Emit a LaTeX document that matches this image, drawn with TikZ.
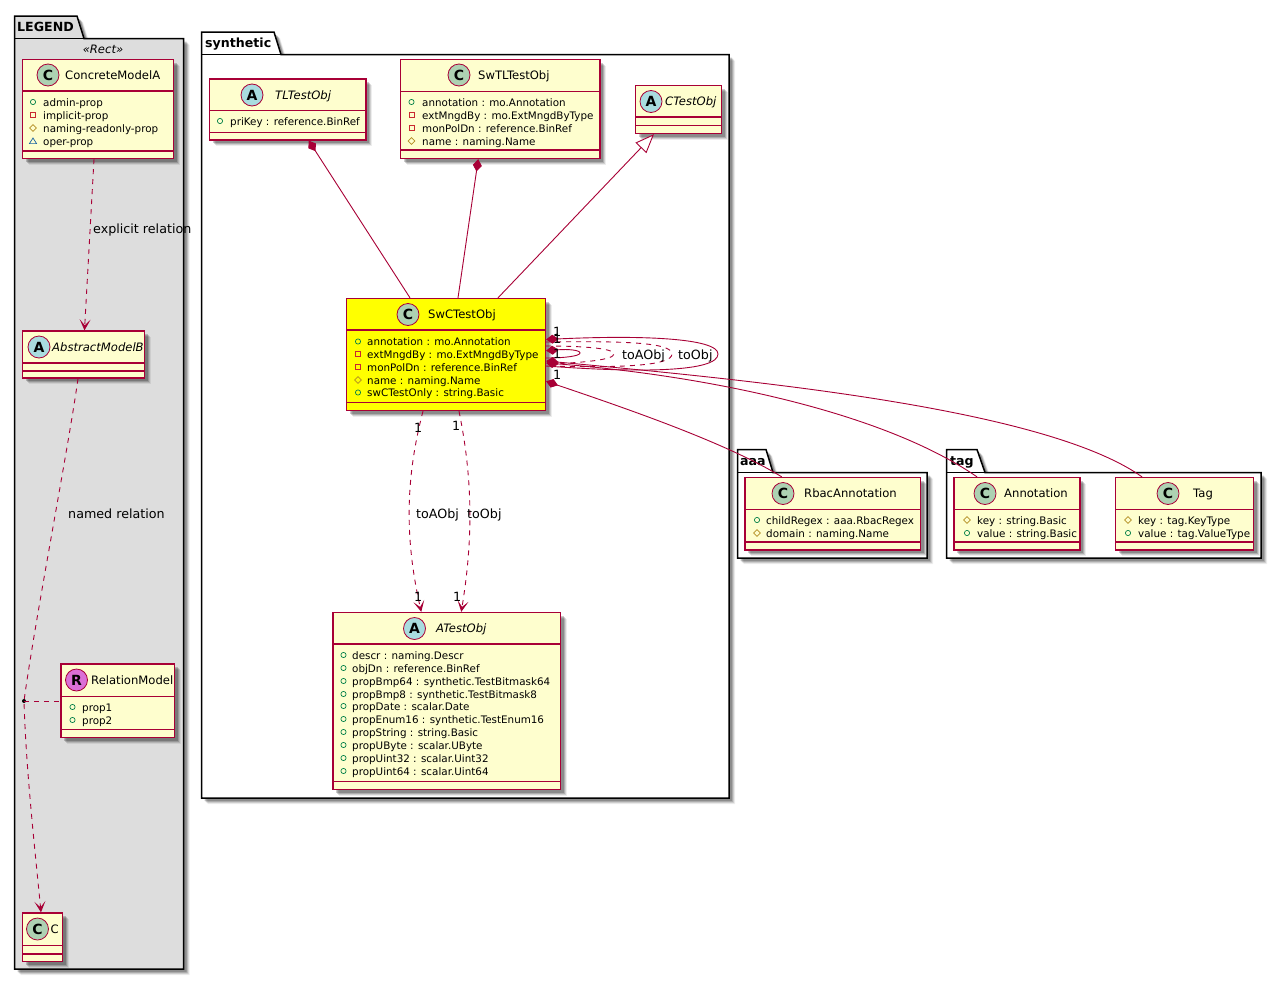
\documentclass[tikz,border=0pt]{standalone}
\usepackage{fontspec}
\setmainfont{DejaVu Sans}
\usepackage{xcolor}
\usetikzlibrary{arrows.meta,shadows,fit,calc}
\definecolor{UmlRed}{HTML}{A80036}
\definecolor{UmlFill}{HTML}{FEFECE}
\definecolor{UmlYellow}{HTML}{FFFF00}
\definecolor{LegendGray}{HTML}{DDDDDD}
\definecolor{SpotClass}{HTML}{ADD1B2}
\definecolor{SpotAbstract}{HTML}{A9DCDF}
\definecolor{SpotRel}{HTML}{DA70D6}
\definecolor{VisPub}{HTML}{038048}
\definecolor{VisPrv}{HTML}{C82930}
\definecolor{VisPro}{HTML}{B38D22}
\definecolor{VisPkg}{HTML}{1963A0}
\tikzset{
  softshadow/.style={
    general shadow={shadow xshift=6pt,shadow yshift=-6pt,fill=black,opacity=.07},
    general shadow={shadow xshift=5pt,shadow yshift=-5pt,fill=black,opacity=.12},
    general shadow={shadow xshift=4pt,shadow yshift=-4pt,fill=black,opacity=.16},
    general shadow={shadow xshift=3pt,shadow yshift=-3pt,fill=black,opacity=.20}},
  pkgbody/.style={draw=black,line width=1.5pt,softshadow},
  pkgtitle/.style={anchor=west,inner sep=0pt,text height=11pt,text depth=2pt,font=\fontsize{12.6}{15}\selectfont\bfseries},
  classbox/.style={draw=UmlRed,line width=1.3pt,inner sep=0pt,softshadow},
  sepline/.style={draw=UmlRed,line width=1.3pt},
  spot/.style={circle,draw=UmlRed,line width=.8pt,minimum size=22pt,inner sep=0pt,font=\fontsize{14}{14}\selectfont\bfseries},
  headtext/.style={anchor=west,inner sep=0pt,text height=10pt,text depth=2pt,font=\fontsize{11.6}{14}\selectfont},
  headitalic/.style={headtext,font=\fontsize{11.6}{14}\selectfont\itshape},
  membertext/.style={anchor=west,inner sep=0pt,text height=9.5pt,text depth=1.5pt,font=\fontsize{10.35}{12}\selectfont},
  edgelabel/.style={anchor=west,inner sep=0pt,text height=10pt,text depth=2pt,font=\fontsize{12.7}{14}\selectfont},
  multlabel/.style={edgelabel},
  rel/.style={draw=UmlRed,line width=.9pt},
  reldash/.style={rel,dash pattern=on 5pt off 5pt},
  openarrow/.style={-{Stealth[length=11pt,width=11pt,inset=6pt]}},
  compo/.style={{Diamond[length=12.5pt,width=9pt]}-},
  relpoint/.style={circle,fill=black,inner sep=0pt,minimum size=4pt},
}
\newcount\membercount
\newcommand{\vispub}[2]{\draw[VisPub,line width=.7pt] (#1,#2) circle (2.6);}
\newcommand{\visprv}[2]{\draw[VisPrv,line width=.7pt,shift={(#1,#2)}] (-2.5,-2.5) rectangle (2.5,2.5);}
\newcommand{\vispro}[2]{\draw[VisPro,line width=.7pt,shift={(#1,#2)}] (-3.3,0) -- (0,-3.3) -- (3.3,0) -- (0,3.3) -- cycle;}
\newcommand{\vispkg}[2]{\draw[VisPkg,line width=.7pt,shift={(#1,#2)}] (-3.6,2.6) -- (3.6,2.6) -- (0,-3) -- cycle;}
\newcommand{\member}[5]{\global\advance\membercount by 1
  \csname vis#1\endcsname{#2}{#3}
  \node[membertext] (member\the\membercount) at (#4,#3) {#5};}
\newcommand{\classbox}[8][UmlFill]{
  \node[classbox,fill=#1,fit={(#3,#4) (#5,#6)}] (#2) {};
  \draw[sepline] (#3,#7) -- (#5,#7);
  \draw[sepline] (#3,#8) -- (#5,#8);}
\begin{document}
\begin{tikzpicture}[x=1pt,y=-1pt]
\path[use as bounding box] (0,0) rectangle (1282,980);
% packages
\draw[pkgbody,fill=LegendGray] (14.5,38.5) -- (14.5,16) -- (77,16) -- (84,38.5) -- (183.5,38.5) -- (183.5,969) -- (14.5,969) -- cycle;
\draw[black,line width=1.5pt] (14.5,38.5) -- (84,38.5);
\node[pkgtitle] (legendtitle) at (17,27) {LEGEND};
\draw[pkgbody,fill=white] (201.5,54.5) -- (201.5,32) -- (274,32) -- (281,54.5) -- (729,54.5) -- (729,798) -- (201.5,798) -- cycle;
\draw[black,line width=1.5pt] (201.5,54.5) -- (281,54.5);
\node[pkgtitle] (synthetictitle) at (205,43) {synthetic};
\draw[pkgbody,fill=white] (737.5,472.5) -- (737.5,449.5) -- (766,449.5) -- (773,472.5) -- (927,472.5) -- (927,558) -- (737.5,558) -- cycle;
\draw[black,line width=1.5pt] (737.5,472.5) -- (773,472.5);
\node[pkgtitle] (aaatitle) at (740,461) {aaa};
\draw[pkgbody,fill=white] (946.5,472.5) -- (946.5,449.5) -- (977,449.5) -- (985,472.5) -- (1261,472.5) -- (1261,558) -- (946.5,558) -- cycle;
\draw[black,line width=1.5pt] (946.5,472.5) -- (985,472.5);
\node[pkgtitle] (tagtitle) at (950,461) {tag};
% legend classes
\node[anchor=center,inner sep=0pt,font=\fontsize{11.6}{14}\selectfont\itshape] (recttitle) at (103,49.5) {«Rect»};
\classbox{ConcreteModelA}{22.5}{59.5}{173.5}{158.5}{91}{151}
\node[spot,fill=SpotClass] (ConcreteModelAspot) at (48,75) {C};
\node[headtext] (ConcreteModelAname) at (65,75) {ConcreteModelA};
\member{pub}{33}{102}{43}{admin-prop}
\member{prv}{33}{115}{43}{implicit-prop}
\member{pro}{33}{128}{43}{naming-readonly-prop}
\member{pkg}{33}{141}{43}{oper-prop}
\classbox{AbstractModelB}{22.5}{331}{144.5}{378}{363}{371}
\node[spot,fill=SpotAbstract] (AbstractModelBspot) at (39,347) {A};
\node[headitalic] (AbstractModelBname) at (52,347) {AbstractModelB};
\classbox{RelationModel}{61}{664}{174.5}{737.5}{696.5}{729.5}
\node[spot,fill=SpotRel] (RelationModelspot) at (76.5,680) {R};
\node[headtext] (RelationModelname) at (91,680) {RelationModel};
\member{pub}{72.5}{707}{82}{prop1}
\member{pub}{72.5}{720}{82}{prop2}
\classbox{Cclass}{22.5}{913}{62.5}{961.5}{945.5}{954}
\node[spot,fill=SpotClass] (Cclassspot) at (37.5,929) {C};
\node[headtext] (Cclassname) at (50.5,929) {C};
% synthetic classes
\classbox{TLTestObj}{209.5}{79}{366}{140}{110.5}{132.5}
\node[spot,fill=SpotAbstract] (TLTestObjspot) at (252,95) {A};
\node[headitalic] (TLTestObjname) at (275,95) {TLTestObj};
\member{pub}{220}{121}{230}{priKey : reference.BinRef}
\classbox{SwTLTestObj}{400.5}{59.5}{600}{158.5}{91.5}{150}
\node[spot,fill=SpotClass] (SwTLTestObjspot) at (459,75) {C};
\node[headtext] (SwTLTestObjname) at (478,75) {SwTLTestObj};
\member{pub}{411.5}{102}{422}{annotation : mo.Annotation}
\member{prv}{411.5}{115}{422}{extMngdBy : mo.ExtMngdByType}
\member{prv}{411.5}{128}{422}{monPolDn : reference.BinRef}
\member{pro}{411.5}{141}{422}{name : naming.Name}
\classbox{CTestObj}{635.5}{85.5}{721.5}{133.5}{117}{125.5}
\node[spot,fill=SpotAbstract] (CTestObjspot) at (651,101.5) {A};
\node[headitalic] (CTestObjname) at (665,101.5) {CTestObj};
\classbox[UmlYellow]{SwCTestObj}{346.5}{298.5}{545.5}{410.5}{330}{402.5}
\node[spot,fill=SpotClass] (SwCTestObjspot) at (408,314.5) {C};
\node[headtext] (SwCTestObjname) at (428,314.5) {SwCTestObj};
\member{pub}{358}{341.5}{367}{annotation : mo.Annotation}
\member{prv}{358}{354}{367}{extMngdBy : mo.ExtMngdByType}
\member{prv}{358}{367}{367}{monPolDn : reference.BinRef}
\member{pro}{358}{380}{367}{name : naming.Name}
\member{pub}{358}{392.5}{367}{swCTestOnly : string.Basic}
\classbox{ATestObj}{333}{612.5}{560.5}{789.5}{644}{781.5}
\node[spot,fill=SpotAbstract] (ATestObjspot) at (414.5,628.5) {A};
\node[headitalic] (ATestObjname) at (436,628.5) {ATestObj};
\member{pub}{343.5}{655}{352}{descr : naming.Descr}
\member{pub}{343.5}{668}{352}{objDn : reference.BinRef}
\member{pub}{343.5}{681}{352}{propBmp64 : synthetic.TestBitmask64}
\member{pub}{343.5}{694}{352}{propBmp8 : synthetic.TestBitmask8}
\member{pub}{343.5}{706}{352}{propDate : scalar.Date}
\member{pub}{343.5}{719}{352}{propEnum16 : synthetic.TestEnum16}
\member{pub}{343.5}{732}{352}{propString : string.Basic}
\member{pub}{343.5}{745}{352}{propUByte : scalar.UByte}
\member{pub}{343.5}{758}{352}{propUint32 : scalar.Uint32}
\member{pub}{343.5}{771}{352}{propUint64 : scalar.Uint64}
% aaa and tag classes
\classbox{RbacAnnotation}{745}{477.5}{920.5}{550}{509.5}{542}
\node[spot,fill=SpotClass] (RbacAnnotationspot) at (783,493.5) {C};
\node[headtext] (RbacAnnotationname) at (804,493.5) {RbacAnnotation};
\member{pub}{757}{520}{766}{childRegex : aaa.RbacRegex}
\member{pro}{757}{533}{766}{domain : naming.Name}
\classbox{Annotation}{954}{477.5}{1080}{550}{509.5}{542}
\node[spot,fill=SpotClass] (Annotationspot) at (985,493.5) {C};
\node[headtext] (Annotationname) at (1004,493.5) {Annotation};
\member{pro}{967}{520}{977}{key : string.Basic}
\member{pub}{967}{533}{977}{value : string.Basic}
\classbox{Tag}{1115.5}{477.5}{1253.5}{550}{509.5}{542}
\node[spot,fill=SpotClass] (Tagspot) at (1168,493.5) {C};
\node[headtext] (Tagname) at (1193,493.5) {Tag};
\member{pro}{1128}{520}{1138}{key : tag.KeyType}
\member{pub}{1128}{533}{1138}{value : tag.ValueType}
% legend relations
\draw[reldash,openarrow] ([xshift=-4pt]ConcreteModelA.south) -- ([xshift=1pt]AbstractModelB.north);
\draw[reldash,openarrow] ([xshift=-5.5pt]AbstractModelB.south) .. controls (68,450) and (35,620) .. (24,701) .. controls (26,770) and (35,850) .. ([xshift=-1.5pt]Cclass.north);
\node[relpoint] (relDot) at (24,701) {};
\draw[reldash] (relDot.center) -- (RelationModel.west |- relDot);
\node[edgelabel] (explicitlabel) at (93,229) {explicit relation};
\node[edgelabel] (namedlabel) at (68,514) {named relation};
% synthetic relations
\draw[rel,compo] ([xshift=21pt]TLTestObj.south) -- ([xshift=-36pt]SwCTestObj.north);
\draw[rel,compo] ([xshift=-22pt]SwTLTestObj.south) -- ([xshift=12pt]SwCTestObj.north);
\draw[rel,{Triangle[open,fill=white,length=19pt,width=15pt]}-] ([xshift=-24.5pt]CTestObj.south) -- ([xshift=52pt]SwCTestObj.north);
% self loops
\draw[rel,compo] ([yshift=15pt]SwCTestObj.east) .. controls (640,335) and (718,338) .. (718,354) .. controls (718,372) and (640,373) .. ([yshift=-11.5pt]SwCTestObj.east);
\draw[reldash] ([yshift=12.5pt]SwCTestObj.east) .. controls (620,341) and (672,342) .. (672,354) .. controls (672,366) and (620,368) .. ([yshift=-11.5pt]SwCTestObj.east);
\draw[reldash] ([yshift=8.5pt]SwCTestObj.east) .. controls (580,346) and (614,348) .. (614,354) .. controls (614,360) and (580,363) .. ([yshift=-9.5pt]SwCTestObj.east);
\draw[rel,compo] ([yshift=3.8pt]SwCTestObj.east) .. controls (568,349) and (580,350) .. (580,353) .. controls (580,356) and (565,358) .. ([yshift=-3.5pt]SwCTestObj.east);
\node[edgelabel] (toAObjloop) at (622,355) {toAObj};
\node[edgelabel] (toObjloop) at (678,355) {toObj};
\node[multlabel] (multa) at (553,332) {1};
\node[multlabel] (multb) at (553,339) {1};
\node[multlabel] (multc) at (553,354) {1};
\node[multlabel] (multd) at (553,375) {1};
% relations to aaa and tag
\draw[rel,compo] ([yshift=-26.8pt]SwCTestObj.east) .. controls (640,413) and (730,445) .. ([xshift=-51pt]RbacAnnotation.north);
\draw[rel,compo] ([yshift=-8.5pt]SwCTestObj.east) .. controls (700,375) and (880,410) .. ([xshift=-40pt]Annotation.north);
\draw[rel,compo] ([yshift=-6.5pt]SwCTestObj.east) .. controls (750,380) and (1045,408) .. ([xshift=-42.5pt]Tag.north);
% relations to ATestObj
\draw[reldash,openarrow] ([xshift=-23pt]SwCTestObj.south) .. controls (405,480) and (405,540) .. ([xshift=-25.5pt]ATestObj.north);
\draw[reldash,openarrow] ([xshift=13pt]SwCTestObj.south) .. controls (473,480) and (473,540) .. ([xshift=14.5pt]ATestObj.north);
\node[edgelabel] (toAObjlabel) at (416,514) {toAObj};
\node[edgelabel] (toObjlabel) at (467,514) {toObj};
\node[multlabel] (multe) at (414,428) {1};
\node[multlabel] (multf) at (452,426) {1};
\node[multlabel] (multg) at (414,597) {1};
\node[multlabel] (multh) at (453,597) {1};
\end{tikzpicture}
\end{document}
